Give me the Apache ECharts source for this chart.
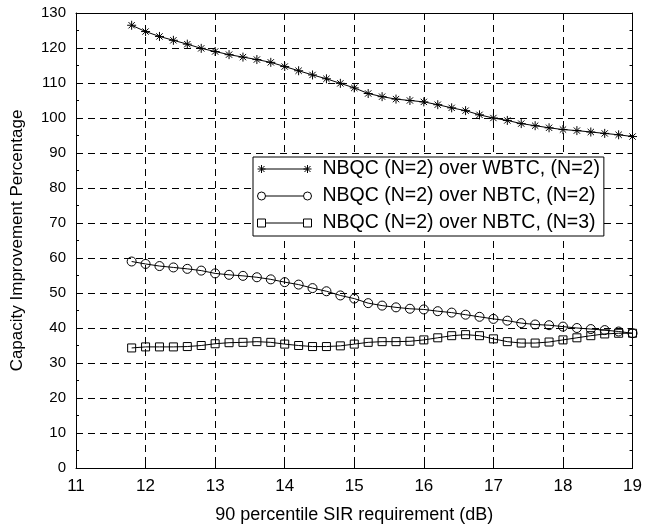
<!DOCTYPE html>
<html>
<head>
<meta charset="utf-8">
<script src="https://cdn.jsdelivr.net/npm/echarts@6/dist/echarts.min.js"></script>
<style>
html,body{margin:0;padding:0;background:#fff;}
#chart{width:645px;height:529px;}
</style>
</head>
<body>
<div id="chart"></div>
<script>
// ---- data ----
var xValues = [11.8,12.0,12.2,12.4,12.6,12.8,13.0,13.2,13.4,13.6,13.8,14.0,14.2,14.4,14.6,14.8,15.0,
  15.2,15.4,15.6,15.8,16.0,16.2,16.4,16.6,16.8,17.0,17.2,17.4,17.6,17.8,18.0,18.2,18.4,18.6,18.8,19.0];
var overWBTC2 = [126.5,124.7,123.3,122.2,121.1,119.9,119.0,118.1,117.4,116.7,115.9,114.7,113.5,112.3,111.2,109.9,108.6,
  107.0,106.1,105.4,105.0,104.6,103.8,102.9,102.1,100.9,100.0,99.3,98.4,97.8,97.2,96.7,96.4,96.0,95.6,95.2,94.7];
var overNBTC2 = [59.0,58.3,57.7,57.3,56.9,56.4,55.6,55.2,54.9,54.5,53.9,53.1,52.4,
  51.4,50.5,49.3,48.4,47.1,46.4,45.9,45.5,45.3,44.8,44.4,43.8,
  43.2,42.6,42.1,41.4,41.0,40.8,40.4,40.0,39.7,39.4,39.0,38.5];
var overNBTC3 = [34.3,34.6,34.6,34.6,34.7,35.0,35.5,35.8,35.9,36.1,35.9,35.4,35.0,34.7,34.7,34.9,35.4,
  35.9,36.1,36.1,36.2,36.6,37.2,37.8,38.1,37.8,36.9,36.1,35.7,35.7,36.0,36.6,37.2,37.8,38.3,38.5,38.5];
var seriesNames = ['NBQC (N=2) over WBTC, (N=2)','NBQC (N=2) over NBTC, (N=2)','NBQC (N=2) over NBTC, (N=3)'];
var xTicks = {min: 11, max: 19, step: 1};
var yTicks = {min: 0, max: 130, step: 10};
var xTitle = '90 percentile SIR requirement (dB)';
var yTitle = 'Capacity Improvement Percentage';

function pairs(ys){ return xValues.map(function(x,i){ return [x, ys[i]]; }); }

var FONT = '"Liberation Sans", Arial, Helvetica, sans-serif';
var starSym = 'path://M0 4 L8 4 M4 0 L4 8 M1.2 1.2 L6.8 6.8 M1.2 6.8 L6.8 1.2';
var starLegend = 'path://M1 5 L9 5 M5 1 L5 9 M2 2 L8 8 M2 8 L8 2 M5 5 L51 5 M47 5 L55 5 M51 1 L51 9 M48 2 L54 8 M48 8 L54 2';
var circLegend = 'path://M1 5 A4 4 0 1 1 9 5 A4 4 0 1 1 1 5 Z M9 5 L47 5 M47 5 A4 4 0 1 1 55 5 A4 4 0 1 1 47 5 Z';
var sqLegend = 'path://M1 1 L9 1 L9 9 L1 9 Z M9 5 L47 5 M47 1 L55 1 L55 9 L47 9 Z';

var clear = 'rgba(0,0,0,0)';
function mkSeries(name, ys, symbol, size){
  return {
    name: name, type: 'line', data: pairs(ys),
    symbol: symbol, symbolSize: size, showAllSymbol: true,
    lineStyle: {color: '#000', width: 1},
    itemStyle: {color: clear, borderColor: '#000', borderWidth: 1},
    emphasis: {disabled: true}, animation: false, z: 3
  };
}

var axisCommon = {
  axisLine: {show: true, onZero: false, lineStyle: {color: '#000', width: 1}},
  axisTick: {show: true, inside: true, length: 5, lineStyle: {color: '#000'}}
};

var chart = echarts.init(document.getElementById('chart'), null, {renderer: 'canvas'});
chart.setOption({
  backgroundColor: '#fff',
  animation: false,
  grid: {left: 76, right: 10, top: 13, bottom: 60, containLabel: false},
  legend: {
    orient: 'vertical', left: 253, top: 157,
    selectedMode: false,
    backgroundColor: '#fff', borderColor: '#000', borderWidth: 1,
    padding: [2, 4, 3, 4], itemGap: 7,
    itemWidth: 54, itemHeight: 8,
    itemStyle: {color: clear, borderColor: '#000', borderWidth: 1},
    textStyle: {fontFamily: FONT, fontSize: 19.5, color: '#000', padding: [0, 0, 0, 6]},
    data: [
      {name: seriesNames[0], icon: starLegend},
      {name: seriesNames[1], icon: circLegend},
      {name: seriesNames[2], icon: sqLegend}
    ]
  },
  xAxis: [
    Object.assign({}, axisCommon, {
      type: 'value', position: 'bottom', min: xTicks.min, max: xTicks.max, interval: xTicks.step,
      name: xTitle, nameLocation: 'middle', nameGap: 38,
      nameTextStyle: {fontFamily: FONT, fontSize: 18, color: '#000'},
      axisLabel: {fontFamily: FONT, fontSize: 17, color: '#000', margin: 10},
      splitLine: {show: true, lineStyle: {color: '#000', type: [7, 5], width: 1}}
    }),
    Object.assign({}, axisCommon, {
      type: 'value', position: 'top', min: xTicks.min, max: xTicks.max, interval: xTicks.step,
      axisLabel: {show: false}, splitLine: {show: false}
    })
  ],
  yAxis: [
    Object.assign({}, axisCommon, {
      type: 'value', position: 'left', min: yTicks.min, max: yTicks.max, interval: yTicks.step,
      name: yTitle, nameLocation: 'middle', nameGap: 50,
      nameTextStyle: {fontFamily: FONT, fontSize: 17, color: '#000'},
      axisLabel: {fontFamily: FONT, fontSize: 15, color: '#000', margin: 10},
      minorTick: {show: true, splitNumber: 2, length: 3, lineStyle: {color: '#000'}},
      splitLine: {show: true, lineStyle: {color: '#000', type: [7, 5], width: 1}}
    }),
    Object.assign({}, axisCommon, {
      type: 'value', position: 'right', min: yTicks.min, max: yTicks.max, interval: yTicks.step,
      axisLabel: {show: false}, splitLine: {show: false},
      minorTick: {show: true, splitNumber: 2, length: 3, lineStyle: {color: '#000'}}
    })
  ],
  series: [
    mkSeries(seriesNames[0], overWBTC2, starSym, 9),
    mkSeries(seriesNames[1], overNBTC2, 'circle', 9),
    mkSeries(seriesNames[2], overNBTC3, 'rect', 8)
  ]
});
</script>
</body>
</html>
